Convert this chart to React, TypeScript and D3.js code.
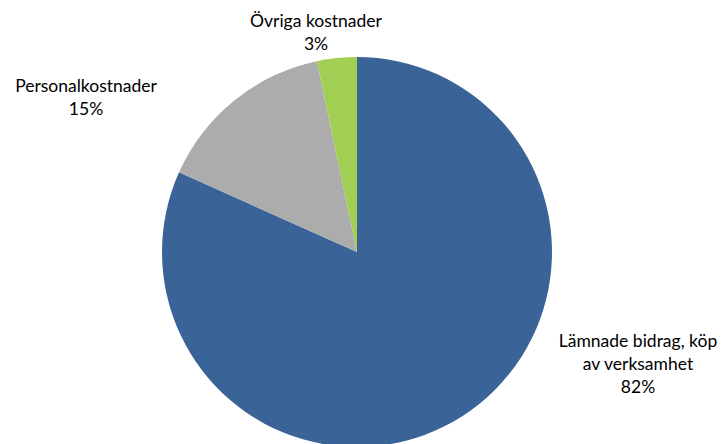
import React from "react";
import * as d3 from "d3";

const categories = ["Lämnade bidrag, köp av verksamhet", "Personalkostnader", "Övriga kostnader"];
const values = [81.7, 15.0, 3.3];
const labels = ["82%", "15%", "3%"];
const labelLines = [["Lämnade bidrag, köp", "av verksamhet", "82%"], ["Personalkostnader", "15%"], ["Övriga kostnader", "3%"]];
const colors = ["#386092", "#A6A6A6", "#9BC850"];
const labelPos: [number, number][] = [[638, 347], [86, 92], [316, 27]];

export default function App() {
  const W = 723, H = 444;
  const cx = 357, cy = 252, r = 195;
  const pie = d3.pie<number>().sort(null).value((d) => d);
  const arcs = pie(values);
  const arc = d3.arc<d3.PieArcDatum<number>>().innerRadius(0).outerRadius(r);
  return (
    <svg width={W} height={H} style={{ position: "absolute", left: 0, top: 0, fontFamily: "Lato, sans-serif" }}>
      <defs>
        {colors.map((c, i) => (
          <radialGradient key={i} id={`g${i}`} cx={cx} cy={cy} r={r} gradientUnits="userSpaceOnUse">
            <stop offset="0%" stopColor={d3.color(c)!.darker(0.15).formatHex()} />
            <stop offset="100%" stopColor={d3.color(c)!.brighter(0.1).formatHex()} />
          </radialGradient>
        ))}
      </defs>
      <rect width={W} height={H} fill="#fff" />
      <g transform={`translate(${cx},${cy})`}>
        {arcs.map((a, i) => (
          <path key={i} d={arc(a)!} fill={`url(#g${i})`} />
        ))}
      </g>
      {labelLines.map((lines, i) => (
        <text key={i} x={labelPos[i][0]} y={labelPos[i][1]} textAnchor="middle" fontSize={17.5} fill="#000">
          {lines.map((l, j) => (
            <tspan key={j} x={labelPos[i][0]} dy={j === 0 ? 0 : 23}>{l}</tspan>
          ))}
        </text>
      ))}
    </svg>
  );
}
